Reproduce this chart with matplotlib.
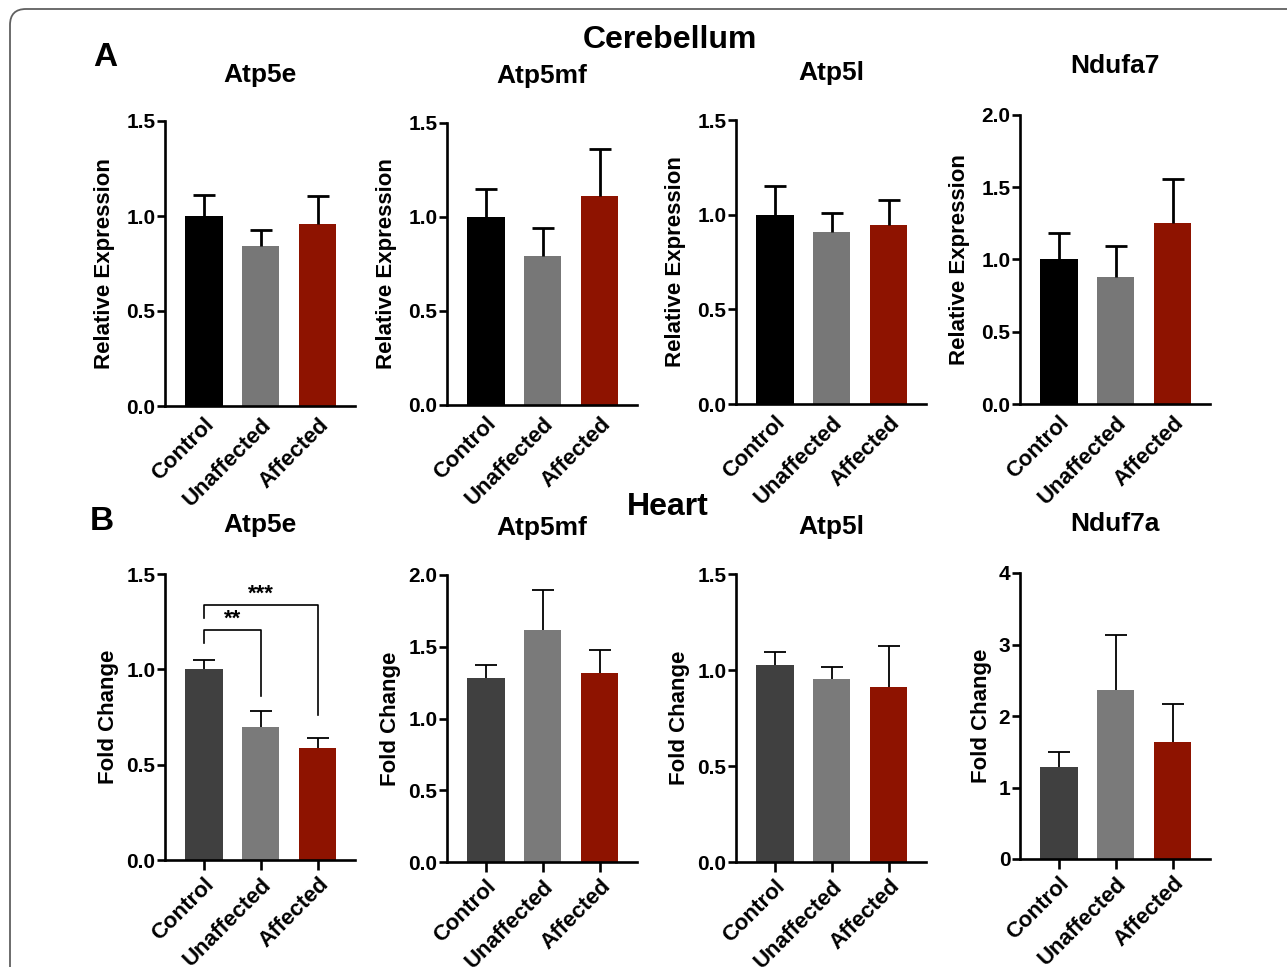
import matplotlib
matplotlib.use("Agg")
import matplotlib.pyplot as plt
from matplotlib.patches import FancyBboxPatch
from matplotlib.transforms import IdentityTransform

plt.rcParams['font.family'] = ['Liberation Sans', 'DejaVu Sans']
plt.rcParams['font.weight'] = 'bold'

groups = ["Control", "Unaffected", "Affected"]

cb_titles = ["Atp5e", "Atp5mf", "Atp5l", "Ndufa7"]
cb_means = [[1.00, 0.84, 0.96],
            [1.00, 0.79, 1.11],
            [1.00, 0.91, 0.945],
            [1.00, 0.88, 1.25]]
cb_sem = [[0.11, 0.085, 0.145],
          [0.15, 0.15, 0.25],
          [0.15, 0.10, 0.135],
          [0.18, 0.21, 0.31]]
cb_ylim = [1.5, 1.5, 1.5, 2.0]
cb_yticks = [[0.0, 0.5, 1.0, 1.5]] * 3 + [[0.0, 0.5, 1.0, 1.5, 2.0]]

ht_titles = ["Atp5e", "Atp5mf", "Atp5l", "Nduf7a"]
ht_means = [[1.00, 0.70, 0.59],
            [1.28, 1.615, 1.32],
            [1.025, 0.955, 0.91],
            [1.29, 2.36, 1.64]]
ht_sem = [[0.05, 0.08, 0.05],
          [0.09, 0.28, 0.155],
          [0.07, 0.06, 0.215],
          [0.21, 0.77, 0.53]]
ht_ylim = [1.5, 2.0, 1.5, 4.0]
ht_yticks = [[0.0, 0.5, 1.0, 1.5], [0.0, 0.5, 1.0, 1.5, 2.0],
             [0.0, 0.5, 1.0, 1.5], [0, 1, 2, 3, 4]]

cb_colors = ["#000000", "#777777", "#8e1300"]
ht_colors = ["#404040", "#7a7a7a", "#8e1300"]

W, H = 1287, 967
fig = plt.figure(figsize=(W / 100, H / 100), dpi=100)

lefts = [165, 447, 736, 1020]
axw = 190


def px_axes(left, bottom_y, top_y):
    return fig.add_axes([left / W, (H - bottom_y) / H, axw / W, (bottom_y - top_y) / H])


def style(ax, ymax, yticks, xticks_on, ylabel, fmt1, lpad):
    ax.set_xlim(-0.684, 2.65)
    ax.set_ylim(0, ymax)
    for s in ['top', 'right']:
        ax.spines[s].set_visible(False)
    for s in ['left', 'bottom']:
        ax.spines[s].set_linewidth(1.9)
    ax.set_yticks(yticks)
    if fmt1:
        ax.set_yticklabels([f"{v:.1f}" for v in yticks])
    else:
        ax.set_yticklabels([f"{v:g}" for v in yticks])
    ax.tick_params(axis='y', length=6, width=1.9, labelsize=15, pad=1)
    ax.set_xticks(range(3))
    ax.set_xticklabels(groups, rotation=45, ha='right', va='top',
                       rotation_mode='anchor', fontsize=16, fontweight='bold')
    ax.tick_params(axis='x', length=(7 if xticks_on else 0), width=1.9,
                   pad=(3 if xticks_on else 6))
    for lab in ax.get_yticklabels():
        lab.set_fontweight('bold')
    ax.set_ylabel(ylabel, fontsize=16, fontweight='bold', labelpad=lpad)


def draw_bars(ax, means, sem, colors, lw):
    x = range(3)
    ax.bar(x, means, width=0.65, color=colors, zorder=2)
    _, caps, _ = ax.errorbar(x, means, yerr=[[0, 0, 0], sem], fmt='none',
                             ecolor='black', elinewidth=lw, capsize=8,
                             capthick=lw, zorder=3)
    # one-sided (upper) error bars: hide the lower caps
    if len(caps) == 2:
        caps[0].set_visible(False)


cb_rows = [(406, 121), (405, 123), (404, 120), (404, 115)]
for i in range(4):
    b, t = cb_rows[i]
    ax = px_axes(lefts[i], b, t)
    draw_bars(ax, cb_means[i], cb_sem[i], cb_colors, 2.0)
    style(ax, cb_ylim[i], cb_yticks[i], False, "Relative Expression", True, 8)
    fig.text((lefts[i] + axw / 2) / W, 1 - [75, 76, 73, 66][i] / H, cb_titles[i],
             ha='center', va='center', fontsize=19, fontweight='bold')

ht_rows = [(860, 574), (862, 575), (862, 574), (859, 573)]
ht_axes = []
for i in range(4):
    b, t = ht_rows[i]
    ax = px_axes(lefts[i], b, t)
    draw_bars(ax, ht_means[i], ht_sem[i], ht_colors, 1.3)
    style(ax, ht_ylim[i], ht_yticks[i], True, "Fold Change", i != 3, 5)
    fig.text((lefts[i] + axw / 2) / W, 1 - [525, 528, 527, 524][i] / H, ht_titles[i],
             ha='center', va='center', fontsize=19, fontweight='bold')
    ht_axes.append(ax)

# significance brackets on heart Atp5e
ax = ht_axes[0]
sig_pairs = [(0, 2, 1.335, 1.27, 0.76, "***"), (0, 1, 1.205, 1.14, 0.86, "**")]
for x0, x1, ytop, yl, yr, lab in sig_pairs:
    ax.plot([x0, x0, x1, x1], [yl, ytop, ytop, yr], color='black', lw=1.2,
            clip_on=False, zorder=4)
    ax.text((x0 + x1) / 2, ytop + 0.005, lab, ha='center', va='bottom',
            fontsize=16, fontweight='bold')

fig.text(670 / W, 1 - 40 / H, "Cerebellum", ha='center', va='center',
         fontsize=23, fontweight='bold')
fig.text(668 / W, 1 - 507 / H, "Heart", ha='center', va='center',
         fontsize=23, fontweight='bold')
fig.text(105 / W, 1 - 58 / H, "A", ha='center', va='center',
         fontsize=24, fontweight='bold')
fig.text(102 / W, 1 - 522 / H, "B", ha='center', va='center',
         fontsize=24, fontweight='bold')

border = FancyBboxPatch((10, -60), 1400, (H - 9) + 60,
                        boxstyle="round,pad=0,rounding_size=16",
                        transform=IdentityTransform(), fill=False,
                        edgecolor='#606060', lw=1.3)
fig.patches.append(border)

fig.savefig("out.png", dpi=100)
